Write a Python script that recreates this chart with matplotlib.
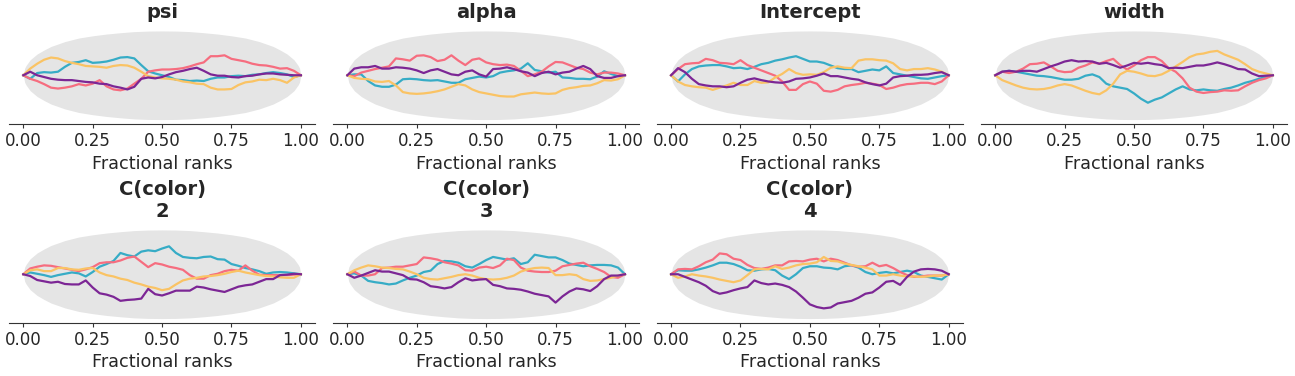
import numpy as np
import matplotlib
matplotlib.use("Agg")
import matplotlib.pyplot as plt

# fractional rank grid the ECDF differences were read at
ranks = np.linspace(0, 1, 41)

# simultaneous envelope (half width), same for every panel
band_x = [0, .005, .01, .025, .05, .075, .1, .15, .2, .25, .3, .35, .4, .45, .5,
          .55, .6, .65, .7, .75, .8, .85, .9, .925, .95, .975, .99, .995, 1]
band_hw = [0, .16, .22, .35, .48, .57, .65, .76, .84, .89, .93, .96, .985, .997, 1,
           .997, .985, .96, .93, .89, .84, .76, .65, .57, .48, .35, .22, .16, 0]

# ECDF difference per chain: chain 0, 1, 2, 3
psi = [
    [0, -.08, .05, .07, .06, .08, .19, .28, .30, .34, .28, .29, .31, .35, .40, .41, .38, .23, .09, .04, 0,
     -.04, -.10, -.11, -.13, -.12, -.13, -.08, -.05, -.05, -.02, -.01, -.02, .01, .02, .05, .07, .05, .02, -.04, 0],
    [0, -.08, -.13, -.20, -.28, -.30, -.28, -.25, -.20, -.23, -.19, -.11, -.25, -.32, -.34, -.30, -.19, -.08, .08, .11, .13,
     .13, .14, .16, .20, .25, .29, .43, .43, .45, .37, .34, .31, .26, .23, .22, .19, .15, .16, .10, 0],
    [0, .15, .26, .35, .40, .38, .32, .28, .25, .21, .20, .19, .17, .21, .23, .22, .17, .08, -.02, -.05, -.07,
     -.08, -.10, -.14, -.16, -.19, -.20, -.28, -.32, -.32, -.31, -.22, -.16, -.14, -.10, -.11, -.08, -.11, -.17, -.05, 0],
    [0, .08, 0, -.04, -.08, -.10, -.11, -.11, -.13, -.15, -.16, -.19, -.20, -.25, -.28, -.32, -.26, -.08, -.05, -.07, -.04,
     .02, .07, .10, .14, .17, .10, .02, -.01, -.01, -.04, -.05, -.02, -.01, .02, .04, .04, .02, .01, 0, 0],
]
alpha = [
    [0, .02, .02, -.13, -.23, -.26, -.26, -.21, -.09, -.08, -.09, -.11, -.12, -.11, -.14, -.17, -.17, -.09, -.06, -.03, -.05,
     -.02, .06, .09, .11, .15, .27, .12, .09, .06, .08, -.05, -.06, -.08, -.08, -.09, -.03, .09, .03, -.02, 0],
    [0, -.02, .06, .10, .14, .17, .20, .38, .36, .33, .44, .45, .41, .32, .35, .45, .33, .23, .35, .38, .29,
     .25, .23, .24, .21, .10, -.02, .02, .08, .20, .30, .29, .23, .17, .14, .06, .02, .06, .06, .04, 0],
    [0, -.06, -.08, -.09, -.14, -.15, -.13, -.23, -.38, -.41, -.42, -.41, -.39, -.36, -.32, -.26, -.20, -.23, -.32, -.38, -.41,
     -.44, -.47, -.48, -.48, -.43, -.41, -.39, -.41, -.42, -.41, -.33, -.29, -.27, -.24, -.23, -.18, -.11, -.12, -.09, 0],
    [0, .15, .18, .18, .21, .15, .15, .18, .17, .15, .11, .05, .11, .14, .08, .02, 0, .08, .11, .02, -.03,
     .14, .15, .18, .14, .09, .06, -.02, .05, .08, .02, .06, .08, .15, .21, .14, -.02, -.06, -.06, -.02, 0],
]
intercept = [
    [0, -.14, .02, .14, .20, .22, .23, .23, .20, .16, .17, .14, .19, .25, .28, .33, .36, .40, .43, .37, .31,
     .31, .28, .22, .16, .14, .14, .07, .10, .13, .11, .20, .05, .02, -.01, -.04, -.07, -.08, -.05, -.02, 0],
    [0, .14, .25, .27, .28, .37, .34, .28, .27, .25, .34, .23, .17, .11, .05, -.01, -.14, -.33, -.33, -.20, -.14,
     -.19, -.35, -.37, -.33, -.25, -.22, -.20, -.17, -.19, -.22, -.31, -.28, -.23, -.20, -.19, -.17, -.17, -.20, -.14, 0],
    [0, -.14, -.22, -.25, -.27, -.28, -.33, -.28, -.23, -.17, -.22, -.22, -.13, -.17, -.16, -.05, .03, .14, .05, .01, .02,
     .01, .07, .17, .20, .17, .16, .33, .36, .36, .34, .33, .27, .14, .11, .14, .14, .16, .13, .08, 0],
    [0, .16, .07, -.08, -.20, -.23, -.25, -.25, -.27, -.25, -.17, -.10, -.07, -.11, -.14, -.16, -.17, -.14, -.08, -.07, -.05,
     -.01, .04, -.02, -.02, -.05, -.08, -.10, -.16, -.20, -.23, -.19, -.05, -.02, -.01, .01, .01, .02, .05, .07, 0],
]
width = [
    [0, .08, .10, .08, .05, .02, -.01, -.02, -.04, -.07, -.10, -.10, -.08, -.01, .02, -.04, -.19, -.25, -.28, -.31, -.41,
     -.53, -.62, -.55, -.50, -.41, -.32, -.25, -.32, -.34, -.32, -.34, -.35, -.31, -.28, -.23, -.17, -.13, -.08, -.04, 0],
    [0, .08, .05, .08, .15, .25, .26, .29, .20, .10, .07, .08, .17, .22, .29, .26, .32, .37, .23, .13, .22,
     .34, .41, .41, .32, .16, .08, -.07, -.28, -.37, -.40, -.38, -.37, -.34, -.35, -.34, -.25, -.17, -.11, -.07, 0],
    [0, -.11, -.17, -.23, -.28, -.31, -.32, -.31, -.28, -.23, -.20, -.23, -.29, -.35, -.40, -.43, -.34, -.19, .02, .10, .08,
     .04, -.01, -.02, .02, .10, .20, .30, .41, .47, .49, .53, .55, .47, .41, .35, .25, .14, .08, .04, 0],
    [0, .08, .10, .08, .10, .10, .08, .14, .20, .25, .31, .34, .31, .32, .31, .26, .28, .23, .17, .22, .28,
     .26, .28, .25, .23, .16, .17, .16, .19, .22, .22, .25, .29, .25, .20, .14, .13, .04, -.02, -.01, 0],
]
color_2 = [
    [0, .04, .01, -.02, -.06, -.02, .01, .04, .02, -.05, .05, .17, .23, .30, .48, .43, .40, .51, .54, .52, .58,
     .63, .48, .39, .37, .36, .39, .40, .34, .33, .23, .19, .14, .11, .07, .01, .04, .05, .04, .02, 0],
    [0, .13, .17, .20, .19, .16, .13, .10, .07, .11, .16, .25, .27, .27, .31, .37, .40, .28, .16, .25, .22,
     .17, .14, .10, -.02, -.10, -.10, -.02, .01, .07, .10, .08, .20, .08, -.01, -.02, -.02, -.02, -.02, -.01, 0],
    [0, .09, .11, .07, .07, .14, .14, .11, .10, .13, .14, .04, -.02, -.05, -.10, -.13, -.19, -.23, -.28, -.31, -.36,
     -.33, -.23, -.14, -.10, -.08, -.05, -.04, -.02, .01, .05, .08, .04, .01, -.02, -.04, -.05, -.07, -.08, -.08, 0],
    [0, -.04, -.13, -.16, -.19, -.17, -.22, -.23, -.23, -.14, -.30, -.43, -.46, -.51, -.60, -.58, -.57, -.55, -.33, -.45, -.48,
     -.43, -.37, -.37, -.37, -.28, -.30, -.34, -.37, -.40, -.34, -.28, -.25, -.23, -.17, -.11, -.11, -.02, -.01, .01, 0],
]
color_3 = [
    [0, .02, -.03, -.15, -.18, -.20, -.23, -.21, -.14, -.08, -.03, .05, .08, .23, .30, .29, .26, .18, .15, .23, .32,
     .39, .36, .33, .36, .23, .27, .44, .41, .38, .38, .32, .24, .21, .18, .20, .21, .21, .20, .15, 0],
    [0, .06, -.03, -.03, 0, .14, .15, .17, .17, .20, .23, .38, .36, .33, .27, .24, .20, .09, .08, .15, .17,
     .14, .20, .35, .32, .15, .08, .06, .05, .05, .08, .18, .21, .24, .26, .18, .12, .05, -.06, -.08, 0],
    [0, .09, .15, .20, .18, .15, .14, .12, .11, .06, 0, -.08, -.11, -.12, -.09, -.06, -.02, 0, -.03, -.08, -.11,
     -.12, -.11, -.08, -.03, .06, .11, .14, .15, .14, -.02, -.02, 0, -.02, -.11, -.15, -.14, -.11, -.08, -.03, 0],
    [0, -.08, -.03, .03, .09, .06, .06, .02, -.02, -.11, -.12, -.18, -.27, -.29, -.32, -.29, -.18, -.09, -.14, -.12, -.11,
     -.24, -.27, -.32, -.33, -.35, -.39, -.44, -.47, -.50, -.64, -.50, -.39, -.32, -.34, -.38, -.27, -.11, -.03, -.03, 0],
]
color_4 = [
    [0, .09, .08, .08, .11, .15, .20, .26, .26, .23, .17, .09, .08, .11, .12, .09, -.03, -.11, 0, .14, .18,
     .18, .15, .14, .11, .18, .20, .15, .05, 0, .03, .05, .02, .05, .08, .05, -.03, -.06, -.09, -.12, 0],
    [0, .11, .12, .11, .18, .27, .33, .47, .45, .35, .32, .21, .14, .12, .15, .20, .20, .29, .30, .29, .33,
     .35, .29, .35, .32, .26, .20, .17, .18, .26, .18, .21, .14, .05, -.02, -.06, -.05, -.03, -.03, -.03, 0],
    [0, -.08, -.05, 0, -.03, -.05, -.08, -.12, -.15, -.18, -.14, -.02, .11, .12, .11, .18, .12, .15, .20, .23, .24,
     .27, .39, .30, .29, .24, .21, .18, .15, .11, -.03, -.03, 0, -.03, -.05, -.05, -.06, -.05, -.03, -.03, 0],
    [0, 0, -.06, -.12, -.18, -.26, -.38, -.44, -.41, -.36, -.32, -.29, -.14, -.20, -.23, -.21, -.24, -.29, -.39, -.53, -.68,
     -.74, -.77, -.75, -.66, -.63, -.60, -.53, -.44, -.41, -.30, -.17, -.15, -.24, -.06, .06, .11, .12, .11, .08, 0],
]

titles = ["psi", "alpha", "Intercept", "width", "C(color)\n2", "C(color)\n3", "C(color)\n4"]
panels = [psi, alpha, intercept, width, color_2, color_3, color_4]
chain_colors = ["#36acc6", "#f66d7f", "#fac364", "#7c2695"]
ticks = [0, 0.25, 0.5, 0.75, 1.0]

fig = plt.figure(figsize=(12.95, 3.76), dpi=100)

lefts = [0.00726, 0.2575, 0.5075, 0.7578]
bottoms = [0.6702, 0.141]
hw = np.array(band_hw)

for i, (title, chains) in enumerate(zip(titles, panels)):
    ax = fig.add_axes([lefts[i % 4], bottoms[i // 4], 0.2358, 0.2593])
    ax.fill_between(band_x, -hw, hw, color="#e5e5e5", lw=0)
    for vals, c in zip(chains, chain_colors):
        ax.plot(ranks, vals, color=c, lw=1.6)

    ax.set_title(title, fontsize=14, fontweight="bold", color="#262626")
    ax.set_xlabel("Fractional ranks", fontsize=12.7, color="#262626", labelpad=3)
    ax.set_xticks(ticks)
    ax.set_xticklabels(["%.2f" % t for t in ticks])
    ax.set_yticks([])
    ax.tick_params(axis="x", labelsize=12, colors="#333333", labelcolor="#262626", length=3, pad=3)
    for side in ["top", "right", "left"]:
        ax.spines[side].set_visible(False)
    ax.spines["bottom"].set_color("#333333")

fig.savefig("out.png", dpi=100)
